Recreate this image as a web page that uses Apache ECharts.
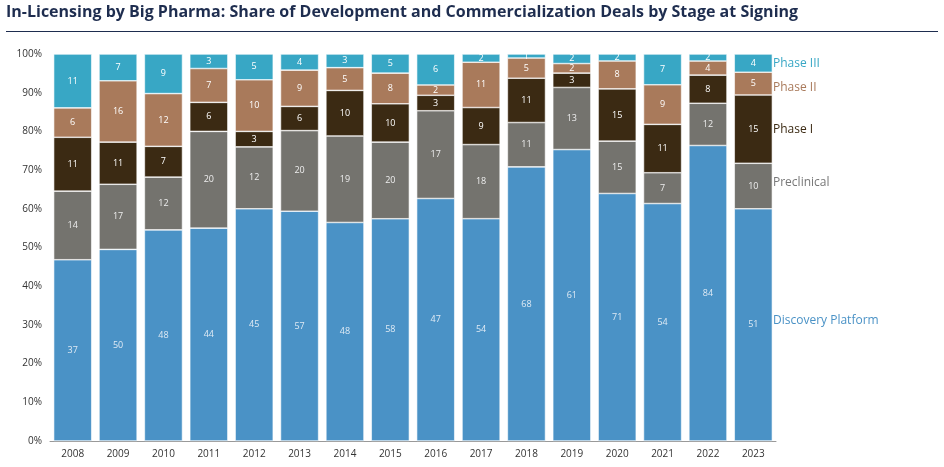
<!DOCTYPE html>
<html>
<head>
<meta charset="utf-8" />
<title>In-Licensing by Big Pharma</title>
<script src="https://cdn.jsdelivr.net/npm/echarts@6/dist/echarts.min.js"></script>
<style>
  body { margin: 0; background: #fff; }
  #main { width: 944px; height: 467px; }
</style>
</head>
<body>
<div id="main"></div>
<script>
// deal counts per year
var years = ['2008','2009','2010','2011','2012','2013','2014','2015','2016','2017','2018','2019','2020','2021','2022','2023'];
var discovery = [37, 50, 48, 44, 45, 57, 48, 58, 47, 54, 68, 61, 71, 54, 84, 51];
var preclinical = [14, 17, 12, 20, 12, 20, 19, 20, 17, 18, 11, 13, 15, 7, 12, 10];
var phase1 = [11, 11, 7, 6, 3, 6, 10, 10, 3, 9, 11, 3, 15, 11, 8, 15];
var phase2 = [6, 16, 12, 7, 10, 9, 5, 8, 2, 11, 5, 2, 8, 9, 4, 5];
var phase3 = [11, 7, 9, 3, 5, 4, 3, 5, 6, 2, 1, 2, 2, 7, 2, 4];
var yTicks = ['0%','10%','20%','30%','40%','50%','60%','70%','80%','90%','100%'];

var stages = [
  { name: 'Discovery Platform', data: discovery, color: '#4a92c6', label: '#dfeaf4', y: 322 },
  { name: 'Preclinical', data: preclinical, color: '#74736e', label: '#eeeeee', y: 184 },
  { name: 'Phase I', data: phase1, color: '#3b2a13', label: '#ffffff', y: 131 },
  { name: 'Phase II', data: phase2, color: '#a97a5b', label: '#ffffff', y: 89 },
  { name: 'Phase III', data: phase3, color: '#38a7c5', label: '#ffffff', y: 65 }
];

var totals = years.map(function (y, i) {
  return stages.reduce(function (s, st) { return s + st.data[i]; }, 0);
});

var series = stages.map(function (st) {
  return {
    name: st.name,
    type: 'bar',
    stack: 'all',
    barCategoryGap: '16%',
    itemStyle: { color: st.color, borderColor: '#fff', borderWidth: 0.6 },
    label: {
      show: true,
      color: st.label,
      fontSize: 9,
      fontFamily: 'Open Sans',
      formatter: function (p) { return st.data[p.dataIndex]; }
    },
    data: st.data.map(function (v, i) { return v / totals[i] * 100; })
  };
});

var chart = echarts.init(document.getElementById('main'));
chart.setOption({
  animation: false,
  textStyle: { fontFamily: 'Open Sans' },
  grid: { left: 50, right: 168, top: 54, bottom: 26 },
  xAxis: {
    type: 'category',
    data: years,
    axisLine: { lineStyle: { color: '#999' } },
    axisTick: { show: false },
    axisLabel: { color: '#333', fontSize: 10 }
  },
  yAxis: {
    type: 'value',
    min: 0, max: 100, interval: 10,
    splitLine: { show: false },
    axisLine: { show: false },
    axisLabel: {
      color: '#333', fontSize: 10,
      formatter: function (v) { return yTicks[Math.round(v / 10)]; }
    }
  },
  series: series,
  graphic: [
    { type: 'text', left: 6, top: 4, style: { text: 'In-Licensing by Big Pharma: Share of Development and Commercialization Deals by Stage at Signing', fill: '#1e2d4f', font: 'bold 16px "Open Sans"' } },
    { type: 'rect', shape: { x: 6, y: 31, width: 932, height: 1 }, style: { fill: '#1e2d4f' } }
  ].concat(stages.map(function (st) {
    return { type: 'text', left: 773, top: st.y - 7, style: { text: st.name, fill: st.color === '#74736e' ? '#777' : st.color, font: '12px "Open Sans"' } };
  }))
});
</script>
</body>
</html>
